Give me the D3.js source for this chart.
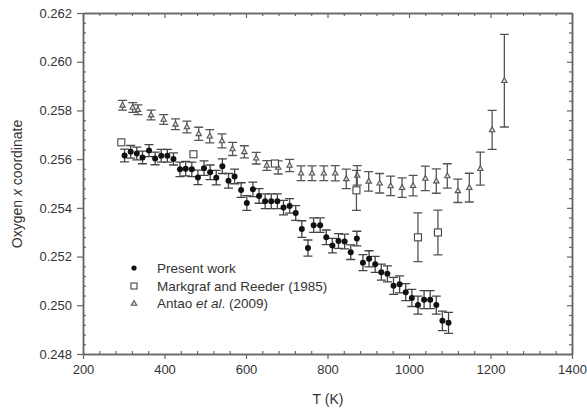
<!DOCTYPE html>
<html>
<head>
<meta charset="utf-8">
<script src="https://cdn.jsdelivr.net/npm/d3@7"></script>
<style>
  body { margin: 0; background: #fff; }
  text { font-family: "Liberation Sans", Arial, sans-serif; fill: #333; }
</style>
</head>
<body>
<svg id="chart"></svg>
<script>
// Oxygen x coordinate vs temperature

const presentT = [302,317,332,346,362,377,392,407,422,438,452,467,482,497,512,527,542,557,572,588,
  602,617,632,647,662,677,692,707,722,737,752,766,782,797,812,827,842,857,872,887,
  902,917,932,947,962,977,992,1007,1022,1037,1052,1067,1082,1097];
const presentX = [0.25615,0.25630,0.25623,0.25607,0.25635,0.25603,0.25614,0.25614,0.25601,0.25558,
  0.25561,0.25558,0.25525,0.25563,0.25546,0.25524,0.25571,0.25511,0.25529,0.25473,
  0.25420,0.25476,0.25449,0.25427,0.25427,0.25427,0.25401,0.25408,0.25379,0.25313,
  0.25235,0.25329,0.25329,0.25279,0.25245,0.25264,0.25262,0.25218,0.25274,0.25175,
  0.25191,0.25168,0.25136,0.25129,0.25080,0.25086,0.25054,0.25030,0.25001,0.25023,
  0.25023,0.25001,0.24936,0.24928];
const presentErr = [0.00026,0.00026,0.00026,0.00026,0.00025,0.00026,0.00026,0.00026,0.00025,0.0003,
  0.0003,0.0003,0.0003,0.0003,0.0003,0.0003,0.0003,0.0003,0.0003,0.0003,
  0.0003,0.0003,0.0003,0.0003,0.0003,0.0003,0.0003,0.0003,0.0003,0.00034,
  0.00033,0.0003,0.0003,0.0003,0.0003,0.0003,0.0003,0.0003,0.0003,0.00033,
  0.00033,0.00033,0.00033,0.00033,0.00035,0.00035,0.00035,0.00035,0.00037,0.00037,
  0.00037,0.00037,0.0004,0.00043];

const mrT = [294,471,671,871,1022,1071];
const mrX = [0.25669,0.25620,0.25582,0.25472,0.25279,0.25299];
const mrErr = [0,0,0,0.00082,0.001,0.00092];

const antaoT = [297,322,335,367,398,427,455,484,511,541,567,596,625,651,679,707,735,762,791,819,
  846,873,901,928,955,983,1010,1040,1067,1094,1120,1148,1175,1204,1234];
const antaoX = [0.25821,0.25812,0.25803,0.25781,0.25763,0.25743,0.25732,0.25704,0.25694,0.25675,
  0.25642,0.25630,0.25604,0.25574,0.25566,0.25574,0.25542,0.25542,0.25542,0.25542,
  0.25519,0.25533,0.25509,0.25501,0.25490,0.25483,0.25491,0.25521,0.25510,0.25531,
  0.25470,0.25483,0.25561,0.25720,0.25922];
const antaoErr = [0.0002,0.0002,0.0002,0.0002,0.0002,0.00022,0.00024,0.00027,0.00027,0.00029,
  0.00027,0.00025,0.00024,0.0002,0.00027,0.00025,0.0003,0.0003,0.0003,0.00031,
  0.0004,0.0004,0.0004,0.0004,0.0004,0.0004,0.00042,0.0005,0.0005,0.0005,
  0.00048,0.00059,0.00068,0.0008,0.0019];

const xMajor = [200,400,600,800,1000,1200,1400];
const yMajor = [0.248,0.250,0.252,0.254,0.256,0.258,0.260,0.262];

const width = 587;
const height = 413;

const svg = d3.select('#chart')
  .attr('width', width)
  .attr('height', height);

const x = d3.scaleLinear().domain([200, 1400]).range([83, 572]);
const y = d3.scaleLinear().domain([0.248, 0.262]).range([354, 13]);

const xMinor = d3.range(200, 1401, 40).filter(v => v % 200 !== 0);
const yMinor = d3.range(0, 36).map(i => 0.248 + i * 0.0004).filter(v => Math.abs(v * 500 - Math.round(v * 500)) > 1e-6);

const axisColor = '#666';

function styleAxis(g) {
  g.select('.domain').attr('stroke', axisColor).attr('stroke-width', 1.5);
  g.selectAll('.tick line').attr('stroke', axisColor).attr('stroke-width', 1.2);
  g.selectAll('.tick text')
    .style('font-family', '"Liberation Sans", Arial, sans-serif')
    .style('font-size', '13px')
    .attr('fill', '#333');
}

// bottom
svg.append('g').attr('transform', 'translate(0,354)')
  .call(d3.axisBottom(x).tickValues(xMajor).tickFormat(d3.format('d')).tickSize(5).tickPadding(6).tickSizeOuter(0))
  .call(styleAxis);
svg.append('g').attr('transform', 'translate(0,354)')
  .call(d3.axisBottom(x).tickValues(xMinor).tickFormat('').tickSize(-3).tickSizeOuter(0))
  .call(styleAxis);
// top
svg.append('g').attr('transform', 'translate(0,13)')
  .call(d3.axisTop(x).tickValues(xMajor).tickFormat('').tickSize(-5).tickSizeOuter(0))
  .call(styleAxis);
svg.append('g').attr('transform', 'translate(0,13)')
  .call(d3.axisTop(x).tickValues(xMinor).tickFormat('').tickSize(-3).tickSizeOuter(0))
  .call(styleAxis);
// left
svg.append('g').attr('transform', 'translate(83,0)')
  .call(d3.axisLeft(y).tickValues(yMajor).tickFormat(d3.format('.3f')).tickSize(6).tickPadding(5).tickSizeOuter(0))
  .call(styleAxis);
svg.append('g').attr('transform', 'translate(83,0)')
  .call(d3.axisLeft(y).tickValues(yMinor).tickFormat('').tickSize(-3).tickSizeOuter(0))
  .call(styleAxis);
// right
svg.append('g').attr('transform', 'translate(572,0)')
  .call(d3.axisRight(y).tickValues(yMajor).tickFormat('').tickSize(-5).tickSizeOuter(0))
  .call(styleAxis);
svg.append('g').attr('transform', 'translate(572,0)')
  .call(d3.axisRight(y).tickValues(yMinor).tickFormat('').tickSize(-3).tickSizeOuter(0))
  .call(styleAxis);

// axis titles
svg.append('text')
  .attr('x', 328).attr('y', 404)
  .attr('text-anchor', 'middle')
  .style('font-size', '14px')
  .text('T (K)');

const yt = svg.append('text')
  .attr('transform', 'translate(22,184) rotate(-90)')
  .attr('text-anchor', 'middle')
  .style('font-size', '14px');
yt.append('tspan').text('Oxygen ');
yt.append('tspan').style('font-style', 'italic').text('x');
yt.append('tspan').text(' coordinate');

// error bars
function errorBars(ts, vs, es, color) {
  const rows = ts.map((t, i) => ({ t: t, v: vs[i], e: es[i] })).filter(d => d.e > 0);
  const g = svg.append('g').attr('stroke', color).attr('stroke-width', 1.3).attr('fill', 'none');
  g.selectAll('path').data(rows).enter().append('path')
    .attr('d', d => {
      const cx = x(d.t), y0 = y(d.v - d.e), y1 = y(d.v + d.e);
      return 'M' + cx + ',' + y0 + 'V' + y1
        + 'M' + (cx - 4.5) + ',' + y0 + 'H' + (cx + 4.5)
        + 'M' + (cx - 4.5) + ',' + y1 + 'H' + (cx + 4.5);
    });
}

const triPath = 'M0,-3L2.7,1.8L-2.7,1.8Z';

errorBars(antaoT, antaoX, antaoErr, '#555');
svg.append('g').selectAll('path').data(antaoT).enter().append('path')
  .attr('transform', (d, i) => 'translate(' + x(d) + ',' + y(antaoX[i]) + ')')
  .attr('d', triPath)
  .attr('fill', '#ddd').attr('stroke', '#555').attr('stroke-width', 1.1);

errorBars(mrT, mrX, mrErr, '#555');
svg.append('g').selectAll('rect').data(mrT).enter().append('rect')
  .attr('x', d => x(d) - 3.5)
  .attr('y', (d, i) => y(mrX[i]) - 3.5)
  .attr('width', 7).attr('height', 7)
  .attr('fill', '#fff').attr('stroke', '#444').attr('stroke-width', 1.1);

errorBars(presentT, presentX, presentErr, '#444');
svg.append('g').selectAll('circle').data(presentT).enter().append('circle')
  .attr('cx', d => x(d))
  .attr('cy', (d, i) => y(presentX[i]))
  .attr('r', 3)
  .attr('fill', '#111');

// legend
const lg = svg.append('g');
lg.append('circle').attr('cx', 134).attr('cy', 268).attr('r', 2.6).attr('fill', '#111');
lg.append('rect').attr('x', 131).attr('y', 283).attr('width', 6).attr('height', 6)
  .attr('fill', '#fff').attr('stroke', '#444').attr('stroke-width', 1.1);
lg.append('path').attr('transform', 'translate(134,303.5)').attr('d', triPath)
  .attr('fill', '#ddd').attr('stroke', '#555').attr('stroke-width', 1.1);

lg.append('text').attr('x', 157).attr('y', 273).style('font-size', '13.5px').text('Present work');
lg.append('text').attr('x', 157).attr('y', 290.5).style('font-size', '13.5px').text('Markgraf and Reeder (1985)');
const at = lg.append('text').attr('x', 157).attr('y', 308).style('font-size', '13.5px');
at.append('tspan').text('Antao ');
at.append('tspan').style('font-style', 'italic').text('et al');
at.append('tspan').text('. (2009)');
</script>
</body>
</html>
